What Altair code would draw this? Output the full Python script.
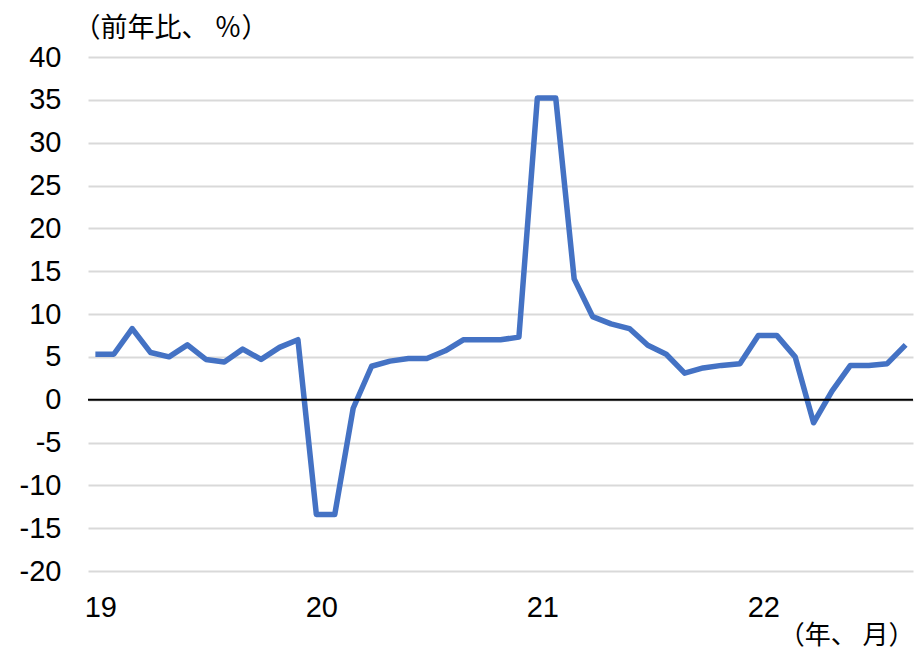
import altair as alt
import pandas as pd

# Monthly year-on-year change, Jan 2019 - Sep 2022 (%)
months = [f"{y}-{m:02d}" for y in range(2019, 2023) for m in range(1, 13)][:45]
values = [
    5.3, 5.3, 8.3, 5.5, 5.0, 6.4, 4.7, 4.4, 5.9, 4.7, 6.1, 7.0,
    -13.4, -13.4, -1.0, 3.9, 4.5, 4.8, 4.8, 5.7, 7.0, 7.0, 7.0, 7.3,
    35.2, 35.2, 14.1, 9.7, 8.85, 8.3, 6.35, 5.3, 3.1, 3.7, 4.0, 4.2,
    7.5, 7.5, 5.0, -2.7, 1.0, 4.0, 4.0, 4.2, 6.4,
]
year_ticks = [0, 12, 24, 36]
year_labels = ["19", "20", "21", "22"]

df = pd.DataFrame({"idx": list(range(len(values))), "month": months, "value": values})

label_expr = " : ".join(
    f"datum.value == {t} ? '{l}'" for t, l in zip(year_ticks, year_labels)
) + " : ''"

num_font = "Liberation Sans"
cjk_font = "Noto Sans CJK JP"

x_enc = alt.X(
    "idx:Q",
    scale=alt.Scale(domain=[-0.4, 44.4], nice=False, zero=False),
    axis=alt.Axis(
        values=year_ticks,
        labelExpr=label_expr,
        grid=False,
        ticks=False,
        domain=False,
        labelFont=num_font,
        labelFontSize=29,
        labelColor="#000000",
        labelPadding=22,
        labelOffset=5,
        title="（年、 月）",
        titleFont=cjk_font,
        titleFontSize=26,
        titleFontWeight="normal",
        titleColor="#000000",
        titleAnchor="end",
        titleAlign="right",
        titleX=826,
        titleY=64,
        titleBaseline="middle",
    ),
)

y_axis = alt.Axis(
    values=list(range(-20, 41, 5)),
    labelExpr="replace(format(datum.value, 'd'), '−', '-')",
    grid=True,
    gridColor="#d9d9d9",
    gridWidth=2,
    ticks=False,
    domain=False,
    labelFont=num_font,
    labelFontSize=29,
    labelColor="#000000",
    labelPadding=27,
    title="（前年比、 ％）",
    titleFont=cjk_font,
    titleFontSize=27,
    titleFontWeight="normal",
    titleColor="#000000",
    titleAngle=0,
    titleAlign="left",
    titleBaseline="middle",
    titleX=-15,
    titleY=-29,
)

line = alt.Chart(df).mark_line(color="#4472C4", strokeWidth=5.5, strokeJoin="round").encode(
    x=x_enc,
    y=alt.Y("value:Q", scale=alt.Scale(domain=[-20, 40], nice=False), axis=y_axis),
)

# Horizontal reference line at zero
zero = alt.Chart(pd.DataFrame({"y": [0]})).mark_rule(color="#000000", strokeWidth=2).encode(
    y=alt.Y("y:Q", axis=y_axis)
)

chart = (
    alt.layer(line, zero)
    .properties(
        width=825,
        height=514,
        background="#ffffff",
        autosize=alt.AutoSizeParams(type="none"),
        padding={"left": 88, "top": 57, "right": 2, "bottom": 82},
    )
    .configure_view(stroke="transparent", strokeWidth=0)
    .configure_axis(domain=False, ticks=False)
)

chart.save("out.html", embed_options={"renderer": "svg", "actions": False})
